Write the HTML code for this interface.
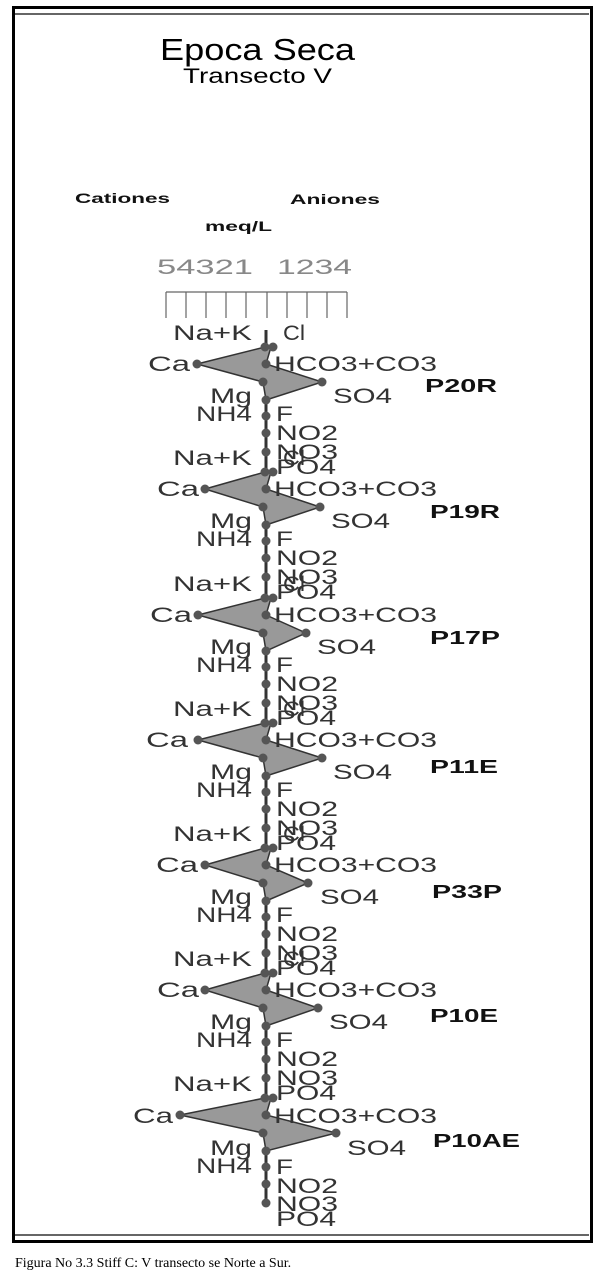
<!DOCTYPE html>
<html><head><meta charset="utf-8"><style>
html,body{margin:0;padding:0;background:#fff}
svg{display:block}
.l{font-family:"Liberation Sans",sans-serif;font-size:21px;fill:#333}
.b{font-family:"Liberation Sans",sans-serif;font-weight:bold;fill:#111}
</style></head><body>
<svg width="603" height="1271" xmlns="http://www.w3.org/2000/svg">
<defs>
<g id="base">
<text class="l" x="173" y="-7" textLength="79" lengthAdjust="spacingAndGlyphs">Na+K</text>
<text class="l" x="283" y="-7" textLength="22" lengthAdjust="spacingAndGlyphs">Cl</text>
<text class="l" x="274" y="24" textLength="163" lengthAdjust="spacingAndGlyphs">HCO3+CO3</text>
<text class="l" x="210" y="56" textLength="42" lengthAdjust="spacingAndGlyphs">Mg</text>
<text class="l" x="196" y="74" textLength="56" lengthAdjust="spacingAndGlyphs">NH4</text>
<text class="l" x="276" y="74" textLength="17" lengthAdjust="spacingAndGlyphs">F</text>
<text class="l" x="276" y="93" textLength="62" lengthAdjust="spacingAndGlyphs">NO2</text>
<text class="l" x="276" y="112" textLength="62" lengthAdjust="spacingAndGlyphs">NO3</text>
<text class="l" x="276" y="127" textLength="60" lengthAdjust="spacingAndGlyphs">PO4</text>
</g>
<g id="dots" fill="#555">
<circle cx="265" cy="0" r="4.5"/><circle cx="273" cy="0" r="4.5"/>
<circle cx="266" cy="17" r="4.5"/><circle cx="263" cy="35" r="4.5"/>
<circle cx="266" cy="53" r="4.5"/><circle cx="266" cy="69" r="4.5"/>
<circle cx="266" cy="86" r="4.5"/><circle cx="266" cy="105" r="4.5"/>
</g>
</defs>
<rect x="13.5" y="7.5" width="578" height="1234" fill="none" stroke="#000" stroke-width="3"/>
<line x1="15" y1="14" x2="589" y2="14" stroke="#333" stroke-width="1.5"/>
<line x1="15" y1="1235" x2="589" y2="1235" stroke="#333" stroke-width="1.5"/>
<text x="160" y="60" font-family="Liberation Sans,sans-serif" font-size="31" fill="#000" textLength="195" lengthAdjust="spacingAndGlyphs">Epoca Seca</text>
<text x="183" y="83" font-family="Liberation Sans,sans-serif" font-size="21" fill="#000" textLength="149" lengthAdjust="spacingAndGlyphs">Transecto V</text>
<text class="b" x="75" y="203" font-size="14" textLength="95" lengthAdjust="spacingAndGlyphs">Cationes</text>
<text class="b" x="290" y="204" font-size="14" textLength="90" lengthAdjust="spacingAndGlyphs">Aniones</text>
<text class="b" x="205" y="231" font-size="14" textLength="67" lengthAdjust="spacingAndGlyphs">meq/L</text>
<text x="157" y="274" font-family="Liberation Sans,sans-serif" font-size="21" fill="#888" textLength="96" lengthAdjust="spacingAndGlyphs">54321</text>
<text x="277" y="274" font-family="Liberation Sans,sans-serif" font-size="21" fill="#888" textLength="75" lengthAdjust="spacingAndGlyphs">1234</text>
<g stroke="#666" stroke-width="1.2">
<line x1="166" y1="292" x2="347" y2="292"/>
<line x1="166" y1="292" x2="166" y2="318"/><line x1="186" y1="292" x2="186" y2="318"/><line x1="206" y1="292" x2="206" y2="318"/><line x1="226" y1="292" x2="226" y2="318"/><line x1="246" y1="292" x2="246" y2="318"/><line x1="267" y1="292" x2="267" y2="318"/><line x1="287" y1="292" x2="287" y2="318"/><line x1="307" y1="292" x2="307" y2="318"/><line x1="327" y1="292" x2="327" y2="318"/><line x1="347" y1="292" x2="347" y2="318"/>
</g>
<line x1="266" y1="330" x2="266" y2="1206" stroke="#333" stroke-width="3"/>

<g transform="translate(0,347)">
<polygon points="197,17 265,0 271,0 266,17 322,35 266,53 263,35" fill="#999" stroke="#333" stroke-width="1.5"/>
<use href="#base"/><use href="#dots"/><circle cx="197" cy="17" r="4.5" fill="#555"/><circle cx="322" cy="35" r="4.5" fill="#555"/>
<text class="l" x="148" y="24" textLength="42" lengthAdjust="spacingAndGlyphs">Ca</text>
<text class="l" x="333" y="56" textLength="59" lengthAdjust="spacingAndGlyphs">SO4</text>
<text class="b" x="425" y="45" font-size="18" textLength="72" lengthAdjust="spacingAndGlyphs">P20R</text>
</g>
<g transform="translate(0,472)">
<polygon points="205,17 265,0 271,0 266,17 320,35 266,53 263,35" fill="#999" stroke="#333" stroke-width="1.5"/>
<use href="#base"/><use href="#dots"/><circle cx="205" cy="17" r="4.5" fill="#555"/><circle cx="320" cy="35" r="4.5" fill="#555"/>
<text class="l" x="157" y="24" textLength="42" lengthAdjust="spacingAndGlyphs">Ca</text>
<text class="l" x="331" y="56" textLength="59" lengthAdjust="spacingAndGlyphs">SO4</text>
<text class="b" x="430" y="46" font-size="18" textLength="70" lengthAdjust="spacingAndGlyphs">P19R</text>
</g>
<g transform="translate(0,598)">
<polygon points="198,17 265,0 271,0 266,17 306,35 266,53 263,35" fill="#999" stroke="#333" stroke-width="1.5"/>
<use href="#base"/><use href="#dots"/><circle cx="198" cy="17" r="4.5" fill="#555"/><circle cx="306" cy="35" r="4.5" fill="#555"/>
<text class="l" x="150" y="24" textLength="42" lengthAdjust="spacingAndGlyphs">Ca</text>
<text class="l" x="317" y="56" textLength="59" lengthAdjust="spacingAndGlyphs">SO4</text>
<text class="b" x="430" y="46" font-size="18" textLength="70" lengthAdjust="spacingAndGlyphs">P17P</text>
</g>
<g transform="translate(0,723)">
<polygon points="198,17 265,0 271,0 266,17 322,35 266,53 263,35" fill="#999" stroke="#333" stroke-width="1.5"/>
<use href="#base"/><use href="#dots"/><circle cx="198" cy="17" r="4.5" fill="#555"/><circle cx="322" cy="35" r="4.5" fill="#555"/>
<text class="l" x="146" y="24" textLength="42" lengthAdjust="spacingAndGlyphs">Ca</text>
<text class="l" x="333" y="56" textLength="59" lengthAdjust="spacingAndGlyphs">SO4</text>
<text class="b" x="430" y="50" font-size="18" textLength="68" lengthAdjust="spacingAndGlyphs">P11E</text>
</g>
<g transform="translate(0,848)">
<polygon points="205,17 265,0 271,0 266,17 308,35 266,53 263,35" fill="#999" stroke="#333" stroke-width="1.5"/>
<use href="#base"/><use href="#dots"/><circle cx="205" cy="17" r="4.5" fill="#555"/><circle cx="308" cy="35" r="4.5" fill="#555"/>
<text class="l" x="156" y="24" textLength="42" lengthAdjust="spacingAndGlyphs">Ca</text>
<text class="l" x="320" y="56" textLength="59" lengthAdjust="spacingAndGlyphs">SO4</text>
<text class="b" x="432" y="50" font-size="18" textLength="70" lengthAdjust="spacingAndGlyphs">P33P</text>
</g>
<g transform="translate(0,973)">
<polygon points="205,17 265,0 271,0 266,17 318,35 266,53 263,35" fill="#999" stroke="#333" stroke-width="1.5"/>
<use href="#base"/><use href="#dots"/><circle cx="205" cy="17" r="4.5" fill="#555"/><circle cx="318" cy="35" r="4.5" fill="#555"/>
<text class="l" x="157" y="24" textLength="42" lengthAdjust="spacingAndGlyphs">Ca</text>
<text class="l" x="329" y="56" textLength="59" lengthAdjust="spacingAndGlyphs">SO4</text>
<text class="b" x="430" y="49" font-size="18" textLength="68" lengthAdjust="spacingAndGlyphs">P10E</text>
</g>
<g transform="translate(0,1098)">
<polygon points="180,17 265,0 271,0 266,17 336,35 266,53 263,35" fill="#999" stroke="#333" stroke-width="1.5"/>
<use href="#dots"/><circle cx="180" cy="17" r="4.5" fill="#555"/><circle cx="336" cy="35" r="4.5" fill="#555"/>
<text class="l" x="173" y="-7" textLength="79" lengthAdjust="spacingAndGlyphs">Na+K</text>
<text class="l" x="274" y="25" textLength="163" lengthAdjust="spacingAndGlyphs">HCO3+CO3</text>
<text class="l" x="210" y="57" textLength="42" lengthAdjust="spacingAndGlyphs">Mg</text>
<text class="l" x="196" y="75" textLength="56" lengthAdjust="spacingAndGlyphs">NH4</text>
<text class="l" x="276" y="76" textLength="17" lengthAdjust="spacingAndGlyphs">F</text>
<text class="l" x="276" y="95" textLength="62" lengthAdjust="spacingAndGlyphs">NO2</text>
<text class="l" x="276" y="113" textLength="62" lengthAdjust="spacingAndGlyphs">NO3</text>
<text class="l" x="276" y="128" textLength="60" lengthAdjust="spacingAndGlyphs">PO4</text>
<text class="l" x="133" y="25" textLength="40" lengthAdjust="spacingAndGlyphs">Ca</text>
<text class="l" x="347" y="57" textLength="59" lengthAdjust="spacingAndGlyphs">SO4</text>
<text class="b" x="433" y="49" font-size="18" textLength="87" lengthAdjust="spacingAndGlyphs">P10AE</text>
</g>
<text x="15" y="1267" font-family="Liberation Serif,serif" font-size="14" fill="#000">Figura No 3.3 Stiff C: V transecto se Norte a Sur.</text>
</svg>
</body></html>
